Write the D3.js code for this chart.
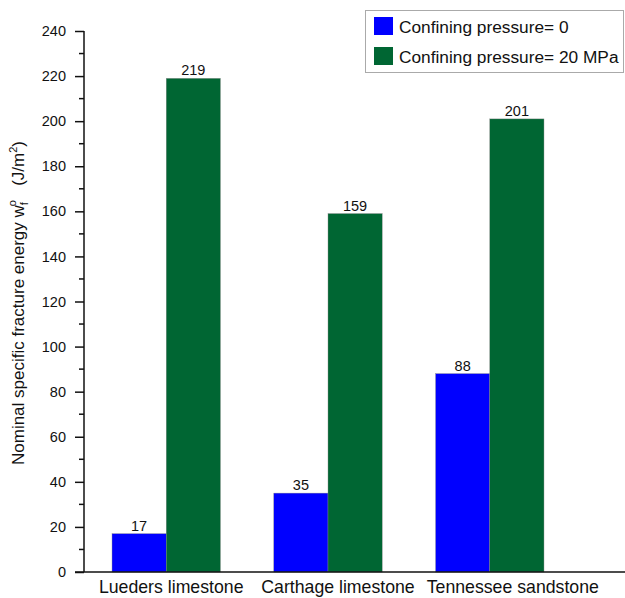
<!DOCTYPE html>
<html><head><meta charset="utf-8">
<script src="https://cdn.jsdelivr.net/npm/d3@7/dist/d3.min.js"></script>
<style>body{margin:0;background:#fff}svg{display:block;font-family:"Liberation Sans",Arial,sans-serif}</style>
</head><body>
<svg id="c" width="625" height="598"></svg>
<script>
const categories = ["Lueders limestone", "Carthage limestone", "Tennessee sandstone"];
const seriesNames = ["Confining pressure= 0", "Confining pressure= 20 MPa"];
const pressure0 = [17, 35, 88];
const pressure20 = [219, 159, 201];
const yTicks = [0, 20, 40, 60, 80, 100, 120, 140, 160, 180, 200, 220, 240];
const colors = ["#0000ff", "#006633"];

const svg = d3.select("#c");
const x0 = 84, yBase = 572, yTop = 31;
const x = d3.scaleBand().domain(categories).range([85, 571]).paddingInner(0.33).paddingOuter(0.167);
const xs = d3.scaleBand().domain([0, 1]).range([0, x.bandwidth()]);
const y = d3.scaleLinear().domain([0, 240]).range([yBase, yTop]);
const series = [pressure0, pressure20];

// bars
categories.forEach((c, i) => {
  series.forEach((s, j) => {
    svg.append("rect")
      .attr("x", x(c) + xs(j)).attr("y", y(s[i]))
      .attr("width", xs.bandwidth()).attr("height", y(0) - y(s[i]))
      .attr("fill", colors[j]).attr("stroke", "#888").attr("stroke-width", 0.4);
    svg.append("text")
      .attr("x", x(c) + xs(j) + xs.bandwidth() / 2).attr("y", y(s[i]) - 3)
      .attr("text-anchor", "middle").attr("font-size", 14.5).attr("fill", "#111")
      .text(s[i]);
  });
});

// y axis
const yAxis = d3.axisLeft(y).tickValues(yTicks).tickSize(9).tickPadding(9);
const gy = svg.append("g").attr("transform", `translate(${x0},0)`).call(yAxis);
gy.select(".domain").remove();
gy.selectAll("text").attr("font-size", 14.5).attr("fill", "#111").attr("font-family", "Liberation Sans, Arial, sans-serif");
gy.selectAll("line").attr("stroke", "#111").attr("stroke-width", 1.5);
const minor = d3.range(10, 240, 20);
svg.append("g").selectAll("line").data(minor).join("line")
  .attr("x1", x0 - 5).attr("x2", x0).attr("y1", d => y(d)).attr("y2", d => y(d))
  .attr("stroke", "#111").attr("stroke-width", 1.5);
svg.append("line").attr("x1", x0).attr("x2", x0).attr("y1", yTop).attr("y2", yBase)
  .attr("stroke", "#111").attr("stroke-width", 1.5);
svg.append("line").attr("x1", x0 - 9).attr("x2", 625).attr("y1", yBase).attr("y2", yBase)
  .attr("stroke", "#111").attr("stroke-width", 1.5);

// x labels (slight rightward nudge as in the original layout)
const labelNudge = [5, 10, 23];
svg.append("g").selectAll("text").data(categories).join("text")
  .attr("x", (d, i) => x(d) + x.bandwidth() / 2 + labelNudge[i]).attr("y", 593)
  .attr("text-anchor", "middle").attr("font-size", 17.7).attr("fill", "#111")
  .text(d => d);

// y label
const yl = svg.append("text").attr("transform", "translate(24,303) rotate(-90)")
  .attr("text-anchor", "middle").attr("font-size", 17).attr("fill", "#111");
yl.append("tspan").text("Nominal specific fracture energy w");
yl.append("tspan").attr("font-size", 11).attr("dy", 4).text("f");
yl.append("tspan").attr("font-size", 11).attr("dy", -12).attr("dx", -4).text("o");
yl.append("tspan").attr("dy", 8).text("\u00a0\u00a0\u00a0(J/m");
yl.append("tspan").attr("font-size", 11).attr("dy", -7).text("2");
yl.append("tspan").attr("dy", 7).text(")");

// legend
svg.append("rect").attr("x", 365.5).attr("y", 10.5).attr("width", 258).attr("height", 62)
  .attr("fill", "#fff").attr("stroke", "#aaa").attr("stroke-width", 1);
seriesNames.forEach((n, j) => {
  svg.append("rect").attr("x", 374).attr("y", 17 + j * 30).attr("width", 19).attr("height", 18)
    .attr("fill", colors[j]);
  svg.append("text").attr("x", 399).attr("y", 33 + j * 30).attr("font-size", 17.3).attr("fill", "#111").text(n);
});
</script>
</body></html>
